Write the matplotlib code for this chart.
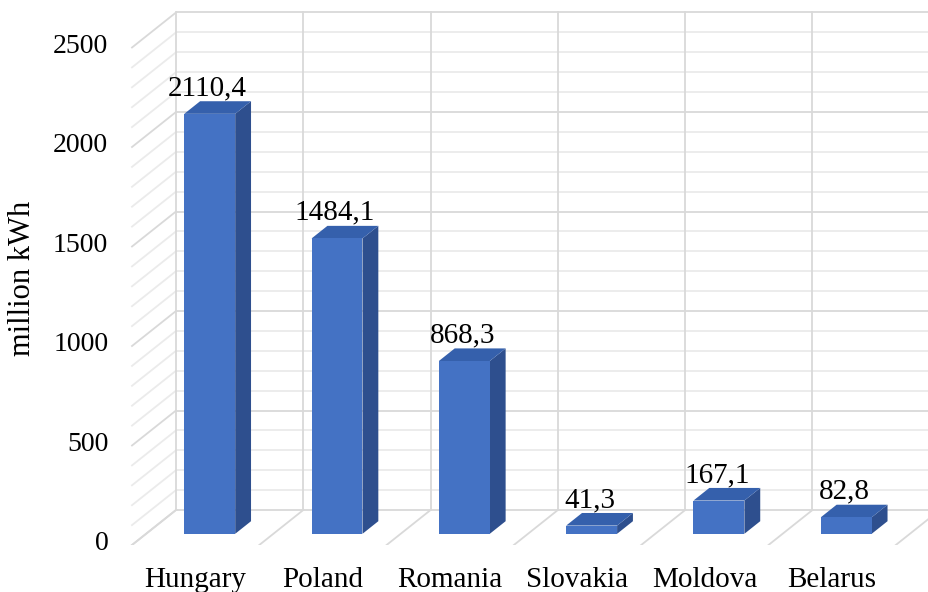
import matplotlib
matplotlib.use("Agg")
import matplotlib.pyplot as plt
import matplotlib.transforms as mtransforms
from matplotlib.patches import Polygon

countries = ["Hungary", "Poland", "Romania", "Slovakia", "Moldova", "Belarus"]
values = [2110.4, 1484.1, 868.3, 41.3, 167.1, 82.8]
labels = ["2110,4", "1484,1", "868,3", "41,3", "167,1", "82,8"]
yticks = [0, 500, 1000, 1500, 2000, 2500]
ylabel = "million kWh"

plt.rcParams['font.family'] = ['Liberation Serif', 'DejaVu Serif']

W, H = 929, 592
fig = plt.figure(figsize=(W / 100, H / 100), dpi=100)

px_cat = 127.3      # pixels per category
px_val = 0.199      # pixels per value unit
left_px = 118
front0_px = 545
ax = fig.add_axes([left_px / W, (H - front0_px) / H, (W - left_px) / W, front0_px / H])
x0 = -(132 - left_px) / px_cat
ax.set_xlim(x0, x0 + (W - left_px) / px_cat)
ax.set_ylim(0, front0_px / px_val)

# oblique depth offsets (full depth)
DX = 44 / px_cat
DY = 35 / px_val

def P(x, y, d):
    return (x + d * DX, y + d * DY)

n = len(countries)
ymax = yticks[-1]
minor_c = "#EBEBEB"
major_c = "#D9D9D9"

# back wall horizontal gridlines + left wall diagonals
for v in range(0, ymax + 1, 100):
    c = major_c if v % 500 == 0 else minor_c
    z = 2 if v % 500 == 0 else 1
    xs, ys = zip(P(0, v, 1), P(n, v, 1))
    ax.plot(xs, ys, color=c, lw=1.3, zorder=z, solid_capstyle='butt')
    xs, ys = zip(P(0, v, 0), P(0, v, 1))
    ax.plot(xs, ys, color=c, lw=1.3, zorder=z)

# back wall vertical lines and floor diagonals
for i in range(n + 1):
    xs, ys = zip(P(i, 0, 1), P(i, ymax, 1))
    ax.plot(xs, ys, color=major_c, lw=1.3, zorder=2)
    xs, ys = zip(P(i, 0, 0), P(i, 0, 1))
    ax.plot(xs, ys, color=major_c, lw=1.3, zorder=2)

# bars
d0, d1 = 0.32, 0.68
bw = 0.4
front_c, top_c, side_c = "#4472C4", "#3560AC", "#2E4F8E"
for i, (v, lab) in enumerate(zip(values, labels)):
    xl = i + (1 - bw) / 2
    xr = xl + bw
    front = [P(xl, 0, d0), P(xr, 0, d0), P(xr, v, d0), P(xl, v, d0)]
    top = [P(xl, v, d0), P(xr, v, d0), P(xr, v, d1), P(xl, v, d1)]
    side = [P(xr, 0, d0), P(xr, 0, d1), P(xr, v, d1), P(xr, v, d0)]
    ax.add_patch(Polygon(side, closed=True, facecolor=side_c, edgecolor='none', zorder=5))
    ax.add_patch(Polygon(top, closed=True, facecolor=top_c, edgecolor='none', zorder=5))
    ax.add_patch(Polygon(front, closed=True, facecolor=front_c, edgecolor='none', zorder=6))
    cx, cy = P(i + 0.5, v, d1)
    ax.annotate(lab, (cx - 0.14, cy), xytext=(0, 0), textcoords='offset points',
                ha='center', va='bottom', fontsize=21, color='black', zorder=10)

# axes styling
for s in ax.spines.values():
    s.set_visible(False)
ax.set_yticks(yticks)
ax.set_yticklabels([str(t) for t in yticks], fontsize=20)
ax.tick_params(axis='y', length=0, pad=7)
shift = mtransforms.ScaledTranslation(0, 3 / 72, fig.dpi_scale_trans)
for lbl in ax.get_yticklabels():
    lbl.set_transform(lbl.get_transform() + shift)
ax.set_xticks([i + 0.5 for i in range(n)])
ax.set_xticklabels(countries, fontsize=21)
ax.tick_params(axis='x', length=0, pad=16)
ax.set_facecolor('none')
fig.text(23 / W, 1 - 278 / H, ylabel, rotation=90, ha='center', va='center', fontsize=22)

fig.savefig("out.png", dpi=100, facecolor='white')
